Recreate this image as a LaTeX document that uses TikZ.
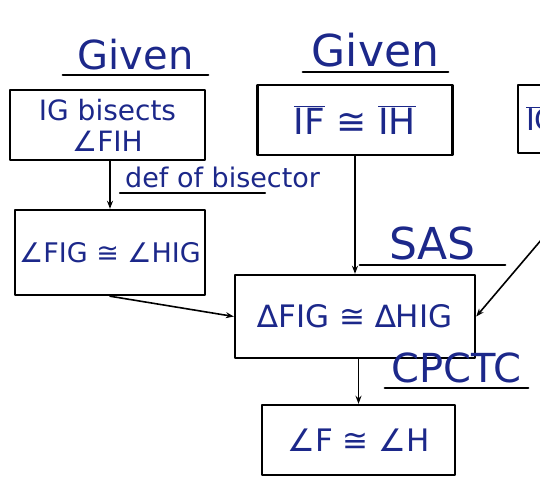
\documentclass[tikz,border=0pt]{standalone}
\usepackage{fontspec}
\setmainfont{DejaVu Sans}
\usetikzlibrary{arrows.meta}
\definecolor{ink}{RGB}{28,40,138}
\newcommand{\seg}[1]{\(\overline{\mbox{#1}}\)}
\begin{document}
\begin{tikzpicture}[x=1pt, y=-1pt, line join=round, line cap=round, >={Stealth[length=8pt,width=6pt]},
	stmt/.style={draw, line width=2.4pt, text=ink, inner sep=0pt, align=center, font=\fontsize{30}{32}\selectfont},
	why/.style={text=ink, inner xsep=0pt, inner ysep=5pt, anchor=south},
	link/.style={->, line width=1.6pt}]
	\useasboundingbox (0,0) rectangle (540,484);
	% statements
	\node[stmt, minimum width=195, minimum height=70, font=\fontsize{28}{31}\selectfont] (bis) at (107.5,125) {IG bisects\\∠FIH};
	\node[stmt, minimum width=190, minimum height=85, font=\fontsize{27}{30}\selectfont] (ang) at (110,252.5) {∠FIG ≅ ∠HIG};
	\node[stmt, minimum width=195, minimum height=70, font=\fontsize{36}{38}\selectfont] (seg) at (355,120) {\seg{IF} ≅ \seg{IH}};
	\node[stmt, minimum width=240, minimum height=83, font=\fontsize{31}{34}\selectfont] (tri) at (355,316.5) {∆FIG ≅ ∆HIG};
	\node[stmt, minimum width=193, minimum height=70, font=\fontsize{31}{34}\selectfont] (concl) at (358.5,440) {∠F ≅ ∠H};
	\node[stmt, text width=176, inner xsep=8pt, minimum height=68, align=left] (refl) at (614,119) {\seg{IG} ≅ \seg{IG}};
	% reasons
	\node[why, minimum width=145, font=\fontsize{40}{40}\selectfont] (giv1) at (135.5,75) {Given};
	\node[why, minimum width=145, font=\fontsize{44}{44}\selectfont] (giv2) at (375.5,72) {Given};
	\node[why, anchor=south west, inner xsep=5pt, font=\fontsize{27}{27}\selectfont] (def) at (120,193) {def of bisector};
	\node[why, minimum width=145, font=\fontsize{44}{44}\selectfont] (sas) at (432.5,265) {SAS};
	\node[why, minimum width=143, font=\fontsize{40}{40}\selectfont] (cpctc) at (456.5,388) {CPCTC};
	\foreach \r in {giv1,giv2,sas,cpctc}
		\draw[line width=2.4pt] (\r.south west) -- (\r.south east);
	\draw[line width=2.4pt] (def.south west) -- ++(145,0);
	% links
	\draw[link] (ang.north |- bis.south) -- (ang.north);
	\draw[link] (seg.south) -- (tri.north);
	\draw[link] (concl.north |- tri.south) -- (concl.north);
	\draw[link] (ang.south) -- (tri.west);
	\draw[link] (refl.south) -- (tri.east);
\end{tikzpicture}
\end{document}
